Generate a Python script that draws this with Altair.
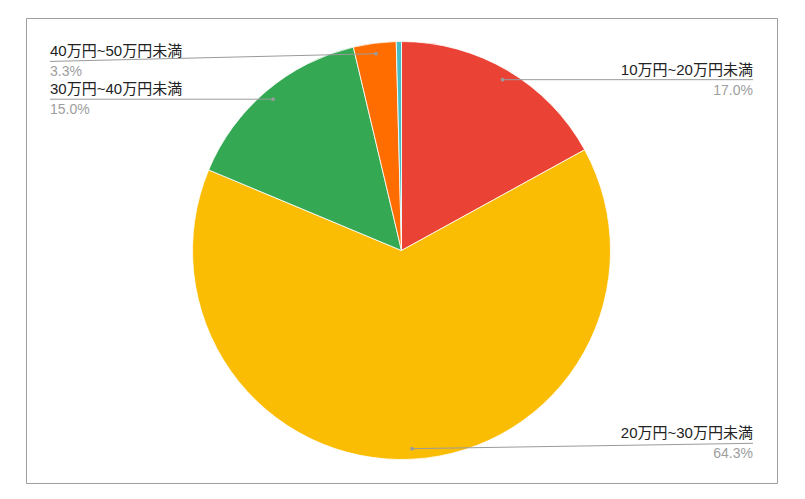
import altair as alt
import pandas as pd

categories = ["10万円~20万円未満", "20万円~30万円未満", "30万円~40万円未満", "40万円~50万円未満", "50万円以上"]
values = [17.0, 64.3, 15.0, 3.3, 0.4]
colors = ["#EA4335", "#FBBC04", "#34A853", "#FF6D01", "#46BDC6"]

df = pd.DataFrame({"category": categories, "value": values, "idx": list(range(len(categories)))})

FONT = "Liberation Sans, Arial, Noto Sans CJK JP, sans-serif"
R = 209
xs = alt.Scale(domain=[-1.797, 1.797], nice=False, zero=False)
ys = alt.Scale(domain=[-1.113, 1.113], nice=False, zero=False)

base = alt.Chart(df)

pie = base.mark_arc(radius=R, stroke="white", strokeWidth=0.8).encode(
    theta=alt.Theta("value:Q", stack=True),
    color=alt.Color("category:N", scale=alt.Scale(domain=categories, range=colors), legend=None),
    order=alt.Order("idx:Q"),
)

lab = (
    base.transform_window(cum="sum(value)", sort=[alt.SortField("idx")], frame=[None, 0])
    .transform_joinaggregate(total="sum(value)")
    .transform_calculate(
        mid="(datum.cum - datum.value/2)/datum.total*2*PI",
    )
    .transform_calculate(
        dx="0.95*sin(datum.mid)",
        dy="0.95*cos(datum.mid)",
        side="sin(datum.mid) >= 0 ? 'right' : 'left'",
        lx="sin(datum.mid) >= 0 ? 1.682 : -1.682",
        pct="format(datum.value, '.1f') + '%'",
    )
    .transform_calculate(ly="clamp(datum.dy, -0.923, 0.905)")
    .transform_filter("datum.value >= 1")
)

rule = lab.mark_rule(color="#9a9a9a", strokeWidth=1).encode(
    x=alt.X("dx:Q", scale=xs, axis=None),
    y=alt.Y("dy:Q", scale=ys, axis=None),
    x2="lx:Q",
    y2="ly:Q",
)
dot = lab.mark_circle(size=14, color="#9a9a9a", opacity=1).encode(
    x=alt.X("dx:Q", scale=xs, axis=None),
    y=alt.Y("dy:Q", scale=ys, axis=None),
)

def texts(side, align):
    sub = lab.transform_filter(f"datum.side == '{side}'")
    name = sub.mark_text(align=align, baseline="alphabetic", dy=-5, font=FONT, fontSize=15, color="#222222").encode(
        x=alt.X("lx:Q", scale=xs, axis=None),
        y=alt.Y("ly:Q", scale=ys, axis=None),
        text="category:N",
    )
    pct = sub.mark_text(align=align, baseline="top", dy=4, font=FONT, fontSize=14, color="#9e9e9e").encode(
        x=alt.X("lx:Q", scale=xs, axis=None),
        y=alt.Y("ly:Q", scale=ys, axis=None),
        text="pct:N",
    )
    return name + pct

chart = (
    alt.layer(pie, rule, dot, texts("right", "right"), texts("left", "left"))
    .properties(
        width=751,
        height=465,
        padding={"left": 18, "top": 10, "right": 10, "bottom": 10},
        autosize="none",
    )
    .configure_view(stroke="#9e9e9e", strokeWidth=1)
)

chart.save("out.html", embed_options={"renderer": "svg", "actions": False})
